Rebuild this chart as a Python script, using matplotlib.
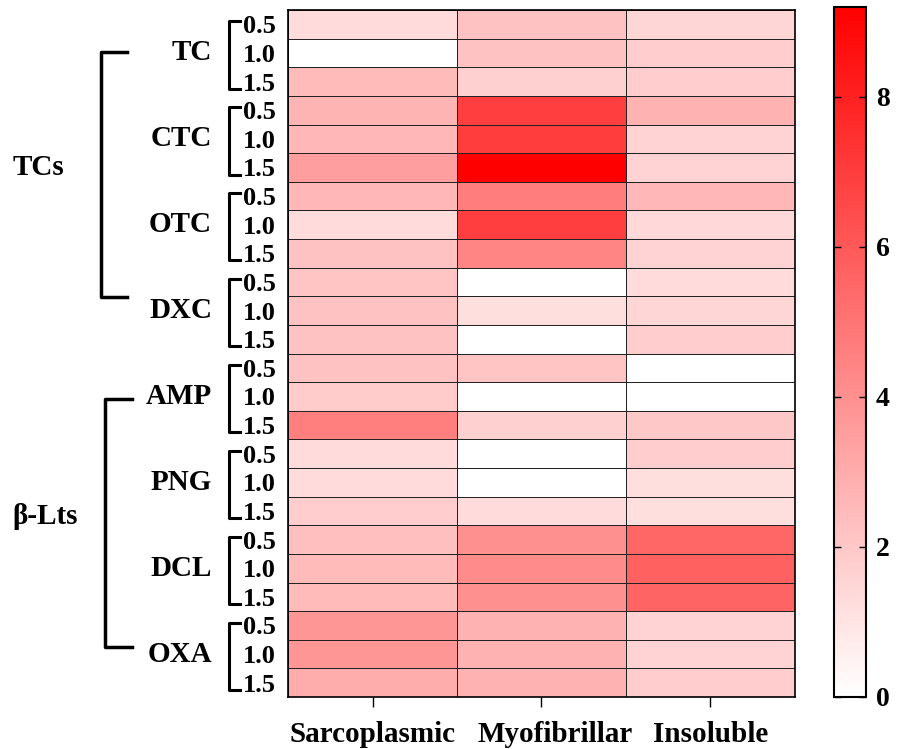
import matplotlib
matplotlib.use("Agg")
import matplotlib.pyplot as plt
import matplotlib.transforms as mtransforms
import numpy as np
from matplotlib.colors import LinearSegmentedColormap

plt.rcParams['font.family'] = ['Liberation Serif', 'DejaVu Serif']
plt.rcParams['font.weight'] = 'bold'

fractions = ['Sarcoplasmic', 'Myofibrillar', 'Insoluble']
drugs = ['TC', 'CTC', 'OTC', 'DXC', 'AMP', 'PNG', 'DCL', 'OXA']
doses = ['0.5', '1.0', '1.5']
classes = ['TCs', 'β-Lts']

# values per fraction, rows = drug x dose (top to bottom)
sarcoplasmic = [1.3, 0.0, 2.5, 2.7, 2.6, 3.5, 2.6, 1.3, 2.2, 2.1, 2.2, 2.2,
                2.2, 1.9, 4.6, 1.3, 1.3, 1.8, 2.3, 2.5, 2.5, 3.8, 3.8, 3.0]
myofibrillar = [2.2, 2.2, 1.7, 6.9, 7.0, 9.2, 4.7, 6.9, 4.4, 0.0, 1.2, 0.0,
                2.1, 0.0, 1.7, 0.0, 0.0, 1.3, 4.0, 4.2, 4.0, 2.8, 2.8, 2.8]
insoluble = [1.5, 1.8, 1.8, 2.8, 1.6, 1.6, 2.6, 1.4, 1.6, 1.3, 1.5, 1.8,
             0.0, 0.0, 2.0, 1.8, 1.2, 1.2, 5.5, 5.7, 5.6, 1.6, 1.6, 1.8]

data = np.array([sarcoplasmic, myofibrillar, insoluble]).T
n_rows = data.shape[0]

cmap = LinearSegmentedColormap.from_list('wr', ['#FFFFFF', '#FF0000'])

W, H = 906, 749
fig = plt.figure(figsize=(W / 100, H / 100), dpi=100)
ax = fig.add_axes([288 / W, 1 - 697 / H, (795 - 288) / W, (697 - 10) / H])
cax = fig.add_axes([834 / W, 1 - 697 / H, (866 - 834) / W, (697 - 7) / H])

mesh = ax.pcolormesh(data, cmap=cmap, vmin=0, vmax=9.2,
                     edgecolors='#222222', linewidth=0.7)
ax.set_xlim(0, 3)
ax.set_ylim(n_rows, 0)
for s in ax.spines.values():
    s.set_linewidth(1.2)

ax.set_xticks(np.arange(3) + 0.5)
ax.set_xticklabels(fractions, fontsize=21, fontweight='bold')
ax.tick_params(axis='x', length=7, width=1, pad=10)
# middle label sits a bit right of its tick in the original
lab = ax.get_xticklabels()[1]
lab.set_transform(lab.get_transform() +
                  mtransforms.ScaledTranslation(0.14, 0, fig.dpi_scale_trans))

ax.set_yticks(np.arange(n_rows) + 0.5)
ax.set_yticklabels(doses * len(drugs), fontsize=19, fontweight='bold')
ax.tick_params(axis='y', length=0, pad=9)
ax.set_yticks(np.arange(0, n_rows, 2) + 0.5, minor=True)
ax.tick_params(axis='y', which='minor', length=4, width=1)

# helpers: x in pixels -> axes fraction
def fx(px):
    return (px - 288) / (795 - 288)

trans = ax.get_yaxis_transform()

# inner brackets and drug names
for i, d in enumerate(drugs):
    r0 = i * 3
    top = r0 + 0.4
    bot = r0 + 2.75
    ax.plot([fx(240), fx(229), fx(229), fx(240)], [top, top, bot, bot],
            transform=trans, clip_on=False, color='black', lw=2.2)
    ax.text(fx(212), r0 + 1.5, d, transform=trans, ha='right', va='center',
            fontsize=21, fontweight='bold')

# outer brackets and class names
outer = [(1.47, 10.03, 101, 127, 38, 5.5),
         (13.6, 22.27, 105, 132, 45, 17.7)]
for name, (t, b, xv, xh, xl, yl) in zip(classes, outer):
    ax.plot([fx(xh), fx(xv), fx(xv), fx(xh)], [t, t, b, b],
            transform=trans, clip_on=False, color='black', lw=2.5)
    ax.text(fx(xl), yl, name, transform=trans, ha='center', va='center',
            fontsize=21, fontweight='bold')

cbar = fig.colorbar(mesh, cax=cax)
cbar.set_ticks([0, 2, 4, 6, 8])
cbar.ax.tick_params(direction='in', left=True, right=True, length=5,
                    width=1, labelsize=20, pad=7)
for lab in cbar.ax.get_yticklabels():
    lab.set_fontweight('bold')
cbar.outline.set_linewidth(1.5)

fig.savefig('out.png', dpi=100)
